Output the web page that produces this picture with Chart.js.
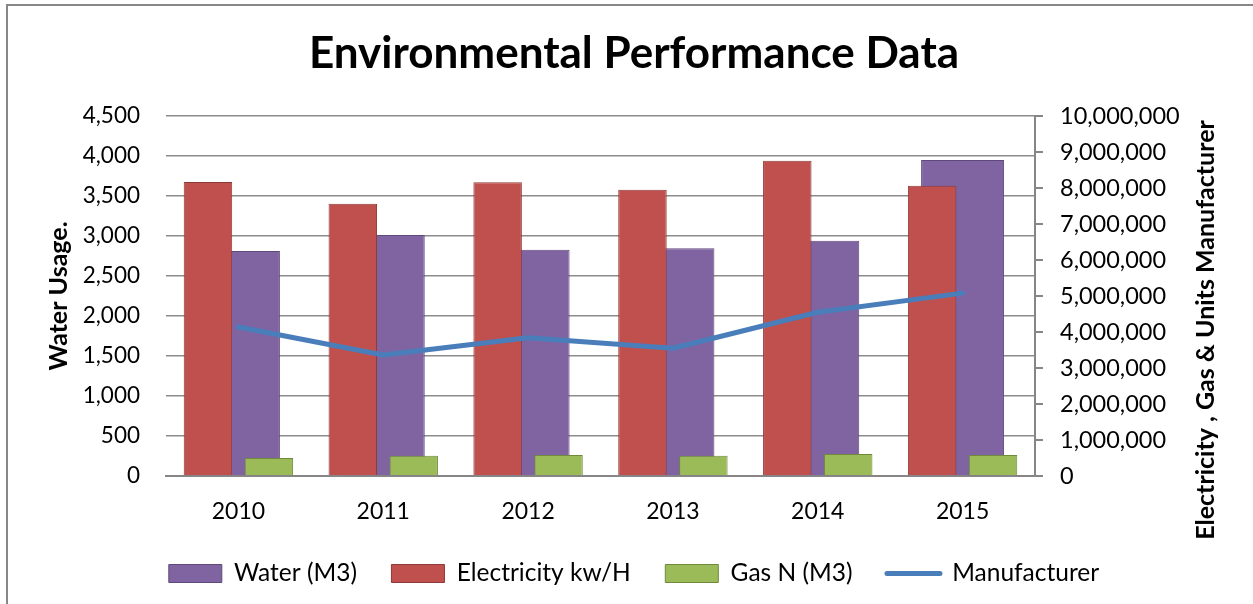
<!DOCTYPE html>
<html>
<head>
<meta charset="utf-8">
<title>Environmental Performance Data</title>
<script src="https://cdn.jsdelivr.net/npm/chart.js@4.4.1/dist/chart.umd.min.js"></script>
<style>
  html, body { margin: 0; padding: 0; background: #fff; overflow: hidden; }
  #frame {
    position: absolute; left: 6px; top: 4px; width: 1400px; height: 800px;
    border-left: 2px solid #878787; border-top: 2px solid #878787;
  }
  #wrap { position: absolute; left: 0; top: 0; width: 1253px; height: 604px; }
</style>
</head>
<body>
<div id="frame"></div>
<div id="wrap"><canvas id="envchart"></canvas></div>
<script>
// values
const years = ["2010", "2011", "2012", "2013", "2014", "2015"];
const water = [2812, 3012, 2829, 2846, 2941, 3950];
const electricity = [8170000, 7560000, 8160000, 7950000, 8760000, 8060000];
const gas = [500000, 560000, 580000, 560000, 610000, 580000];
const manufacturer = [4140000, 3360000, 3840000, 3550000, 4550000, 5080000];

const seriesNames = ["Water (M3)", "Electricity kw/H", "Gas N (M3)", "Manufacturer"];
const chartTitle = "Environmental Performance Data";
const leftTitle = "Water Usage.";
const rightTitle = "Electricity , Gas & Units Manufacturer";

const waterAxis = { min: 0, max: 4500, step: 500 };
const otherAxis = { min: 0, max: 10000000, step: 1000000 };

const font = "Lato, 'Open Sans', sans-serif";
const gridGrey = "#8c8c8c";
const axisGrey = "#868686";

// right axis title reads bottom to top, chart.js would draw it the other way
const rightAxisTitle = {
    id: "rightAxisTitle",
    afterDraw(chart) {
        const ctx = chart.ctx;
        const area = chart.chartArea;
        ctx.save();
        ctx.translate(chart.width - 47, (area.top + area.bottom) / 2 + 34);
        ctx.rotate(-Math.PI / 2);
        ctx.font = "bold 25px " + font;
        ctx.fillStyle = "#000";
        ctx.textAlign = "center";
        ctx.textBaseline = "middle";
        ctx.fillText(rightTitle, 0, 0);
        ctx.restore();
    }
};

const fmt = (v) => Number(v).toLocaleString("en-US");

const ctx = document.getElementById("envchart");

new Chart(ctx, {
    type: "bar",
    data: {
        labels: years,
        datasets: [
            {
                // wide bar centred on the year, behind the other two
                label: seriesNames[0],
                data: water,
                yAxisID: "y",
                stack: "A",
                grouped: false,
                backgroundColor: "#8064A2",
                borderColor: "#5E4A7A",
                borderWidth: 1,
                categoryPercentage: 1,
                barPercentage: 0.573,
                order: 2
            },
            {
                label: seriesNames[1],
                data: electricity,
                yAxisID: "y2",
                stack: "A",
                backgroundColor: "#C0504D",
                borderColor: "#8E3A38",
                borderWidth: 1,
                categoryPercentage: 0.841,
                barPercentage: 0.796,
                order: 1
            },
            {
                label: seriesNames[2],
                data: gas,
                yAxisID: "y2",
                stack: "B",
                backgroundColor: "#9BBB59",
                borderColor: "#6F8A3C",
                borderWidth: 1,
                categoryPercentage: 0.841,
                barPercentage: 0.796,
                order: 1
            },
            {
                type: "line",
                label: seriesNames[3],
                data: manufacturer,
                yAxisID: "y2",
                stack: "A",
                borderColor: "#4A7EBB",
                backgroundColor: "#4A7EBB",
                borderWidth: 5,
                borderCapStyle: "round",
                borderJoinStyle: "round",
                pointRadius: 0,
                tension: 0,
                order: 0
            }
        ]
    },
    options: {
        responsive: true,
        maintainAspectRatio: false,
        animation: false,
        devicePixelRatio: 1,
        layout: { padding: { left: 15, right: 0, top: 0, bottom: 8.25 } },
        plugins: {
            title: {
                display: true,
                text: chartTitle,
                color: "#000",
                font: { family: font, size: 44, weight: "bold" },
                padding: { top: 27.3, bottom: 35.9 }
            },
            legend: {
                position: "bottom",
                labels: {
                    color: "#000",
                    font: { family: font, size: 24.5 },
                    usePointStyle: true,
                    pointStyleWidth: 53,
                    boxHeight: 18,
                    padding: 34.5,
                    generateLabels: function (chart) {
                        const items = Chart.defaults.plugins.legend.labels.generateLabels(chart);
                        items.forEach((item) => {
                            const ds = chart.data.datasets[item.datasetIndex];
                            if (ds.type === "line") {
                                item.pointStyle = "line";
                                item.lineWidth = 5;
                                item.strokeStyle = ds.borderColor;
                                item.lineCap = "round";
                            } else {
                                item.pointStyle = "rect";
                                item.lineWidth = 1;
                                item.fillStyle = ds.backgroundColor;
                                item.strokeStyle = ds.borderColor;
                            }
                        });
                        return items.sort((a, b) => a.datasetIndex - b.datasetIndex);
                    }
                }
            },
            tooltip: { enabled: false }
        },
        scales: {
            x: {
                type: "category",
                position: "bottom",
                offset: true,
                grid: { display: false, drawTicks: false, offset: true },
                border: { display: true, color: axisGrey, width: 2 },
                ticks: { color: "#000", font: { family: font, size: 23 }, padding: 22 },
                afterFit: (s) => { s.height = 50.75; }
            },
            y: {
                position: "left",
                stacked: false,
                min: waterAxis.min,
                max: waterAxis.max,
                ticks: {
                    stepSize: waterAxis.step,
                    color: "#000",
                    font: { family: font, size: 22.5 },
                    padding: 26,
                    callback: fmt
                },
                grid: { color: gridGrey, lineWidth: 1.5, drawTicks: false },
                border: { display: false },
                title: {
                    display: true,
                    text: leftTitle,
                    color: "#000",
                    font: { family: font, size: 25, weight: "bold" },
                    padding: { top: 28.8 }
                },
                afterFit: (s) => { s.width = 151; }
            },
            y2: {
                position: "right",
                stacked: false,
                min: otherAxis.min,
                max: otherAxis.max,
                ticks: {
                    stepSize: otherAxis.step,
                    color: "#000",
                    font: { family: font, size: 23.5 },
                    padding: 17,
                    callback: fmt
                },
                grid: { drawOnChartArea: false, drawTicks: true, tickLength: 8, color: axisGrey, lineWidth: 2 },
                border: { display: true, color: axisGrey, width: 2 },
                afterFit: (s) => { s.width = 218; }
            }
        }
    },
    plugins: [rightAxisTitle]
});
</script>
</body>
</html>
